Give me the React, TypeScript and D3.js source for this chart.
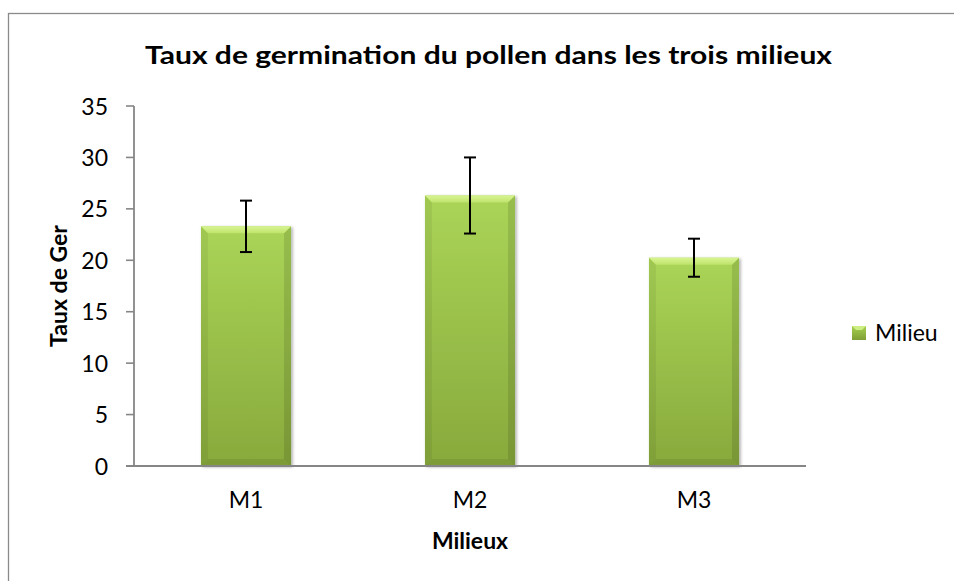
import React from "react";
import * as d3 from "d3";

const categories = ["M1", "M2", "M3"];
const values = [23.3, 26.3, 20.25];
const errors = [2.5, 3.7, 1.85];
const yTicks = [0, 5, 10, 15, 20, 25, 30, 35];
const seriesName = "Milieu";
const title = "Taux de germination du pollen dans les trois milieux";
const xTitle = "Milieux";
const yTitle = "Taux de Ger";

const W = 954;
const H = 581;
const FONT = "Lato, 'Open Sans', sans-serif";

export default function App() {
  const x = d3
    .scaleBand<string>()
    .domain(categories)
    .range([134, 806])
    .paddingInner(0.598)
    .paddingOuter(0.299);
  const y = d3.scaleLinear().domain([0, 35]).range([466, 106]);
  const bw = x.bandwidth();
  const b = 7;

  const bevel = (bx: number, by: number, w: number, h: number) => {
    const bb = Math.min(b, h / 2, w / 2);
    return {
      top: `${bx},${by} ${bx + w},${by} ${bx + w - bb},${by + bb} ${bx + bb},${by + bb}`,
      left: `${bx},${by} ${bx + bb},${by + bb} ${bx + bb},${by + h - bb} ${bx},${by + h}`,
      right: `${bx + w},${by} ${bx + w - bb},${by + bb} ${bx + w - bb},${by + h - bb} ${bx + w},${by + h}`,
      bottom: `${bx},${by + h} ${bx + bb},${by + h - bb} ${bx + w - bb},${by + h - bb} ${bx + w},${by + h}`,
    };
  };

  const axisColor = "#868686";

  return (
    <svg
      width={W}
      height={H}
      viewBox={`0 0 ${W} ${H}`}
      style={{ position: "absolute", left: 0, top: 0, display: "block", background: "#fff" }}
    >
      <defs>
        <linearGradient id="face" x1="0" y1="0" x2="0" y2="1">
          <stop offset="0" stopColor="#aad557" />
          <stop offset="1" stopColor="#88a93c" />
        </linearGradient>
        <linearGradient id="topBevel" x1="0" y1="0" x2="0" y2="1">
          <stop offset="0" stopColor="#d8f592" />
          <stop offset="1" stopColor="#bfe36c" />
        </linearGradient>
        <linearGradient id="legFace" x1="0" y1="0" x2="0" y2="1">
          <stop offset="0" stopColor="#a6d050" />
          <stop offset="1" stopColor="#7f9f36" />
        </linearGradient>
        <filter id="shadow" x="-20%" y="-10%" width="140%" height="120%">
          <feDropShadow dx="1.5" dy="1" stdDeviation="1.5" floodColor="#000" floodOpacity="0.35" />
        </filter>
      </defs>

      {/* chart border */}
      <rect x={8.5} y={13.5} width={W + 20} height={H + 20} fill="none" stroke="#8a8a8a" strokeWidth={1.3} />

      {/* title */}
      <text
        x={488.5}
        y={64}
        textAnchor="middle"
        fontFamily={FONT}
        fontWeight="bold"
        fontSize={25.5}
        textLength={687}
        lengthAdjust="spacingAndGlyphs"
        fill="#000"
      >
        {title}
      </text>

      {/* bars */}
      {categories.map((c, i) => {
        const bx = x(c)!;
        const by = y(values[i]);
        const h = y(0) - by;
        const p = bevel(bx, by, bw, h);
        return (
          <g key={c}>
            <rect x={bx} y={by} width={bw} height={h} fill="url(#face)" filter="url(#shadow)" />
            <polygon points={p.left} fill="#000" opacity={0.06} />
            <polygon points={p.right} fill="#000" opacity={0.11} />
            <polygon points={p.bottom} fill="#000" opacity={0.08} />
            <polygon points={p.top} fill="url(#topBevel)" />
          </g>
        );
      })}

      {/* y axis */}
      <line x1={134} x2={134} y1={y(35)} y2={y(0)} stroke={axisColor} strokeWidth={1.8} />
      {yTicks.map((t) => (
        <g key={t}>
          <line x1={126} x2={134} y1={y(t)} y2={y(t)} stroke={axisColor} strokeWidth={1.6} />
          <text x={108} y={y(t) + 8.5} textAnchor="end" fontFamily={FONT} fontSize={23} fill="#000">
            {t}
          </text>
        </g>
      ))}

      {/* x axis */}
      <line x1={126} x2={806} y1={y(0)} y2={y(0)} stroke={axisColor} strokeWidth={1.8} />
      {categories.map((c) => (
        <text
          key={c}
          x={x(c)! + bw / 2}
          y={508}
          textAnchor="middle"
          fontFamily={FONT}
          fontSize={23}
          fill="#000"
        >
          {c}
        </text>
      ))}

      {/* error bars */}
      {categories.map((c, i) => {
        const cx = x(c)! + bw / 2;
        const y1 = y(values[i] + errors[i]);
        const y2 = y(values[i] - errors[i]);
        return (
          <g key={c} stroke="#000" strokeWidth={2}>
            <line x1={cx} x2={cx} y1={y1} y2={y2} />
            <line x1={cx - 6} x2={cx + 6} y1={y1} y2={y1} />
            <line x1={cx - 6} x2={cx + 6} y1={y2} y2={y2} />
          </g>
        );
      })}

      {/* axis titles */}
      <text x={470} y={549} textAnchor="middle" fontFamily={FONT} fontWeight="bold" fontSize={23} fill="#000">
        {xTitle}
      </text>
      <text
        transform={`translate(67,286) rotate(-90)`}
        textAnchor="middle"
        fontFamily={FONT}
        fontWeight="bold"
        fontSize={23}
        fill="#000"
      >
        {yTitle}
      </text>

      {/* legend */}
      <g>
        <rect x={852} y={326} width={14} height={14} fill="url(#legFace)" />
        <polygon points="852,326 866,326 862,330 856,330" fill="#cdee82" />
        <text x={875} y={341} fontFamily={FONT} fontSize={23} fill="#000">
          {seriesName}
        </text>
      </g>
    </svg>
  );
}
